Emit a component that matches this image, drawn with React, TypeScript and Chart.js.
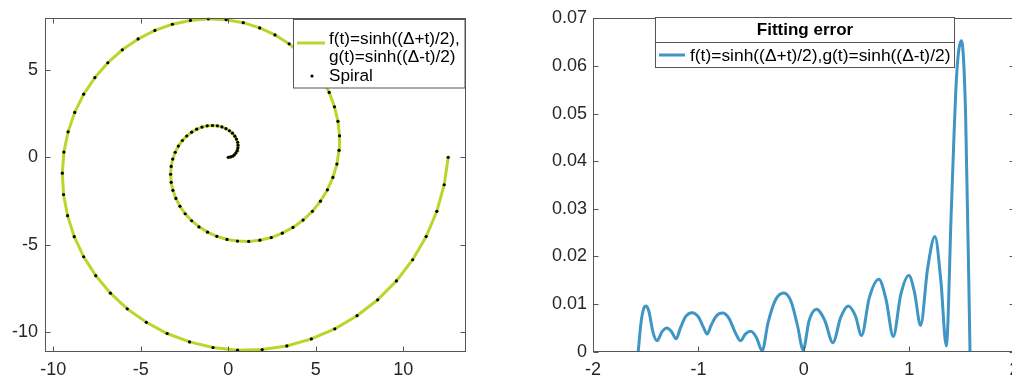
import React, { useEffect, useRef } from "react";
import { Chart, registerables } from "chart.js";

Chart.register(...registerables);

// ---------- data ----------
const spiralX = [
  0, 0.13, 0.25, 0.35, 0.44, 0.51, 0.55, 0.56, 0.54, 0.47,
  0.38, 0.24, 0.07, -0.13, -0.36, -0.62, -0.9, -1.2, -1.5, -1.8,
  -2.09, -2.37, -2.62, -2.85, -3.03, -3.17, -3.26, -3.29, -3.26, -3.16,
  -2.99, -2.76, -2.46, -2.09, -1.67, -1.18, -0.65, -0.07, 0.53, 1.17,
  1.81, 2.46, 3.09, 3.7, 4.28, 4.81, 5.27, 5.67, 5.98, 6.21,
  6.33, 6.36, 6.27, 6.07, 5.77, 5.35, 4.82, 4.2, 3.48, 2.67,
  1.8, 0.86, -0.12, -1.14, -2.16, -3.19, -4.19, -5.15, -6.05, -6.88,
  -7.62, -8.26, -8.77, -9.15, -9.39, -9.48, -9.41, -9.18, -8.8, -8.26,
  -7.57, -6.73, -5.77, -4.68, -3.49, -2.21, -0.87, 0.53, 1.94, 3.35,
  4.75, 6.09, 7.36, 8.54, 9.61, 10.54, 11.31, 11.92, 12.34, 12.57,
];
const spiralY = [
  0, 0.02, 0.06, 0.14, 0.25, 0.38, 0.53, 0.69, 0.86, 1.04,
  1.21, 1.38, 1.52, 1.64, 1.74, 1.8, 1.82, 1.8, 1.73, 1.61,
  1.44, 1.22, 0.96, 0.64, 0.29, -0.1, -0.52, -0.97, -1.43, -1.89,
  -2.35, -2.8, -3.23, -3.63, -3.98, -4.28, -4.52, -4.7, -4.79, -4.81,
  -4.74, -4.59, -4.34, -4.01, -3.59, -3.09, -2.51, -1.86, -1.15, -0.39,
  0.4, 1.23, 2.06, 2.89, 3.71, 4.49, 5.22, 5.89, 6.49, 7.0,
  7.4, 7.7, 7.87, 7.92, 7.83, 7.61, 7.26, 6.77, 6.15, 5.41,
  4.56, 3.61, 2.57, 1.46, 0.3, -0.91, -2.13, -3.34, -4.54, -5.69,
  -6.77, -7.77, -8.67, -9.44, -10.08, -10.56, -10.88, -11.03, -11.0, -10.79,
  -10.39, -9.81, -9.06, -8.15, -7.07, -5.86, -4.53, -3.09, -1.57, 0,
];

const errX = [
  -1.571, -1.545, -1.52, -1.497, -1.47, -1.43, -1.392, -1.345, -1.297, -1.255,
  -1.212, -1.17, -1.12, -1.06, -1.0, -0.95, -0.917, -0.88, -0.83, -0.769,
  -0.71, -0.65, -0.601, -0.555, -0.503, -0.45, -0.395, -0.34, -0.27, -0.19,
  -0.12, -0.06, -0.006, 0.05, 0.121, 0.2, 0.276, 0.35, 0.421, 0.49,
  0.548, 0.62, 0.712, 0.78, 0.849, 0.92, 0.997, 1.05, 1.108, 1.175,
  1.244, 1.3, 1.352, 1.4, 1.45, 1.495, 1.535, 1.577,
];
const errY = [
  0, 0.006, 0.009, 0.0096, 0.0085, 0.004, 0.0023, 0.0042, 0.005, 0.0042,
  0.0027, 0.005, 0.0074, 0.0082, 0.0073, 0.005, 0.0037, 0.0055, 0.0075, 0.0081,
  0.007, 0.004, 0.0023, 0.0037, 0.0043, 0.003, 0.0002, 0.006, 0.0108, 0.0123,
  0.0105, 0.0055, 0.0004, 0.0065, 0.0089, 0.0065, 0.0019, 0.0072, 0.0096, 0.0075,
  0.0034, 0.0112, 0.0152, 0.011, 0.0032, 0.012, 0.016, 0.0125, 0.0055, 0.0175,
  0.0242, 0.015, 0.0012, 0.03, 0.058, 0.0653, 0.05, 0,
];

const leftXTicks = [-10, -5, 0, 5, 10];
const leftXLabels = ["-10", "-5", "0", "5", "10"];
const leftYTicks = [-10, -5, 0, 5];
const leftYLabels = ["-10", "-5", "0", "5"];
const rightXTicks = [-2, -1, 0, 1, 2];
const rightXLabels = ["-2", "-1", "0", "1", "2"];
const rightYTicks = [0, 0.01, 0.02, 0.03, 0.04, 0.05, 0.06, 0.07];
const rightYLabels = ["0", "0.01", "0.02", "0.03", "0.04", "0.05", "0.06", "0.07"];

const fitLabelLines = ["f(t)=sinh((\u0394+t)/2),", "g(t)=sinh((\u0394-t)/2)"];
const spiralLabel = "Spiral";
const errTitle = "Fitting error";
const errLabel = "f(t)=sinh((\u0394+t)/2),g(t)=sinh((\u0394-t)/2)";

// ---------- styles ----------
const FONT = '"Liberation Sans", Arial, Helvetica, sans-serif';
const AXIS = "#555555";
const GREEN = "#bcd52a";
const BLUE = "#3f95c4";
const TICK_COLOR = "#262626";

function boxPlugin(xt: number[], yt: number[]) {
  return {
    id: "matlabBox",
    afterDatasetsDraw(chart: any) {
      const { ctx, chartArea: a, scales } = chart;
      ctx.save();
      ctx.strokeStyle = AXIS;
      ctx.lineWidth = 1;
      const L = Math.round(a.left) + 0.5;
      const R = Math.round(a.right) - 0.5;
      const T = Math.round(a.top) + 0.5;
      const B = Math.round(a.bottom) - 0.5;
      ctx.strokeRect(L, T, R - L, B - T);
      const tl = 5;
      ctx.beginPath();
      xt.forEach((v) => {
        const p = Math.round(scales.x.getPixelForValue(v)) + 0.5;
        ctx.moveTo(p, B);
        ctx.lineTo(p, B - tl);
        ctx.moveTo(p, T);
        ctx.lineTo(p, T + tl);
      });
      yt.forEach((v) => {
        const p = Math.round(scales.y.getPixelForValue(v)) + 0.5;
        ctx.moveTo(L, p);
        ctx.lineTo(L + tl, p);
        ctx.moveTo(R, p);
        ctx.lineTo(R - tl, p);
      });
      ctx.stroke();
      ctx.restore();
    },
  };
}

const leftLegendPlugin = {
  id: "leftLegend",
  afterDraw(chart: any) {
    const ctx = chart.ctx;
    ctx.save();
    ctx.fillStyle = "#ffffff";
    ctx.fillRect(293.5, 19.5, 171.5, 68.5);
    ctx.strokeStyle = AXIS;
    ctx.lineWidth = 1;
    ctx.strokeRect(293.5, 19.5, 171.5, 68.5);
    ctx.strokeStyle = GREEN;
    ctx.lineWidth = 3;
    ctx.beginPath();
    ctx.moveTo(297, 43);
    ctx.lineTo(325, 43);
    ctx.stroke();
    ctx.fillStyle = "#000000";
    ctx.beginPath();
    ctx.arc(312, 76, 1.6, 0, Math.PI * 2);
    ctx.fill();
    ctx.font = `17.2px ${FONT}`;
    ctx.textBaseline = "middle";
    ctx.textAlign = "left";
    ctx.fillText(fitLabelLines[0], 329, 39);
    ctx.fillText(fitLabelLines[1], 329, 57.5);
    ctx.fillText(spiralLabel, 329, 76);
    ctx.restore();
  },
};

const rightLegendPlugin = {
  id: "rightLegend",
  afterDraw(chart: any) {
    const ctx = chart.ctx;
    ctx.save();
    const l = 135.5, t = 17.5, r = 434.5, b = 67.5, mid = 42.5;
    ctx.fillStyle = "#ffffff";
    ctx.fillRect(l, t, r - l, b - t);
    ctx.strokeStyle = AXIS;
    ctx.lineWidth = 1;
    ctx.strokeRect(l, t, r - l, b - t);
    ctx.beginPath();
    ctx.moveTo(l, mid);
    ctx.lineTo(r, mid);
    ctx.stroke();
    ctx.fillStyle = "#000000";
    ctx.font = `bold 17px ${FONT}`;
    ctx.textBaseline = "middle";
    ctx.textAlign = "center";
    ctx.fillText(errTitle, (l + r) / 2, 30.5);
    ctx.strokeStyle = BLUE;
    ctx.lineWidth = 3;
    ctx.beginPath();
    ctx.moveTo(139, 55);
    ctx.lineTo(165, 55);
    ctx.stroke();
    ctx.font = `17.4px ${FONT}`;
    ctx.textAlign = "left";
    ctx.fillText(errLabel, 170, 56.5);
    ctx.restore();
  },
};

function tickFont() {
  return { family: FONT, size: 18 };
}

export default function App() {
  const leftRef = useRef<HTMLCanvasElement | null>(null);
  const rightRef = useRef<HTMLCanvasElement | null>(null);

  useEffect(() => {
    const spiralPts = spiralX.map((x, i) => ({ x, y: spiralY[i] }));
    const errPts = errX.map((x, i) => ({ x, y: errY[i] }));

    const left = new Chart(leftRef.current as HTMLCanvasElement, {
      type: "scatter",
      data: {
        datasets: [
          {
            label: spiralLabel,
            data: spiralPts,
            pointRadius: 1.6,
            pointBackgroundColor: "#000000",
            pointBorderWidth: 0,
            showLine: false,
            order: 0,
          },
          {
            label: fitLabelLines.join(" "),
            data: spiralPts,
            showLine: true,
            borderColor: GREEN,
            borderWidth: 3,
            pointRadius: 0,
            tension: 0,
            order: 1,
          },
        ],
      },
      options: {
        responsive: false,
        maintainAspectRatio: false,
        animation: false,
        events: [],
        layout: { padding: { left: 0, top: 17.5, right: 14.3, bottom: 0 } },
        plugins: { legend: { display: false }, tooltip: { enabled: false } },
        scales: {
          x: {
            type: "linear",
            min: -10.47,
            max: 13.57,
            grid: { display: false, drawTicks: false },
            border: { display: false },
            afterBuildTicks: (s: any) => {
              s.ticks = leftXTicks.map((v) => ({ value: v }));
            },
            afterFit: (s: any) => {
              s.height = 26.3;
            },
            ticks: {
              font: tickFont(),
              color: TICK_COLOR,
              padding: 7.5,
              maxRotation: 0,
              autoSkip: false,
              callback: (_v: any, i: number) => leftXLabels[i],
            },
          },
          y: {
            type: "linear",
            min: -11.12,
            max: 7.98,
            grid: { display: false, drawTicks: false },
            border: { display: false },
            afterBuildTicks: (s: any) => {
              s.ticks = leftYTicks.map((v) => ({ value: v }));
            },
            afterFit: (s: any) => {
              s.width = 45;
            },
            ticks: {
              font: tickFont(),
              color: TICK_COLOR,
              padding: 7,
              autoSkip: false,
              callback: (_v: any, i: number) => leftYLabels[i],
            },
          },
        },
      },
      plugins: [boxPlugin(leftXTicks, leftYTicks), leftLegendPlugin],
    } as any);

    const right = new Chart(rightRef.current as HTMLCanvasElement, {
      type: "scatter",
      data: {
        datasets: [
          {
            label: errLabel,
            data: errPts,
            showLine: true,
            borderColor: BLUE,
            borderWidth: 3,
            pointRadius: 0,
            cubicInterpolationMode: "monotone",
          },
        ],
      },
      options: {
        responsive: false,
        maintainAspectRatio: false,
        animation: false,
        events: [],
        layout: { padding: { left: 0, top: 18.3, right: 25.4, bottom: 0 } },
        plugins: { legend: { display: false }, tooltip: { enabled: false } },
        scales: {
          x: {
            type: "linear",
            min: -2,
            max: 2,
            grid: { display: false, drawTicks: false },
            border: { display: false },
            afterBuildTicks: (s: any) => {
              s.ticks = rightXTicks.map((v) => ({ value: v }));
            },
            afterFit: (s: any) => {
              s.height = 26.3;
            },
            ticks: {
              font: tickFont(),
              color: TICK_COLOR,
              padding: 7.5,
              maxRotation: 0,
              autoSkip: false,
              callback: (_v: any, i: number) => rightXLabels[i],
            },
          },
          y: {
            type: "linear",
            min: 0,
            max: 0.07,
            grid: { display: false, drawTicks: false },
            border: { display: false },
            afterBuildTicks: (s: any) => {
              s.ticks = rightYTicks.map((v) => ({ value: v }));
            },
            afterFit: (s: any) => {
              s.width = 73;
            },
            ticks: {
              font: tickFont(),
              color: TICK_COLOR,
              padding: 6,
              autoSkip: false,
              callback: (_v: any, i: number) => rightYLabels[i],
            },
          },
        },
      },
      plugins: [boxPlugin(rightXTicks, rightYTicks), rightLegendPlugin],
    } as any);

    return () => {
      left.destroy();
      right.destroy();
    };
  }, []);

  return (
    <div
      style={{
        position: "fixed",
        left: 0,
        top: 0,
        width: 1012,
        height: 378,
        overflow: "hidden",
        background: "#ffffff",
      }}
    >
      <canvas
        ref={leftRef}
        width={480}
        height={378}
        style={{ position: "absolute", left: 0, top: 0, width: 480, height: 378 }}
      />
      <canvas
        ref={rightRef}
        width={520}
        height={378}
        style={{ position: "absolute", left: 520, top: 0, width: 520, height: 378 }}
      />
    </div>
  );
}
